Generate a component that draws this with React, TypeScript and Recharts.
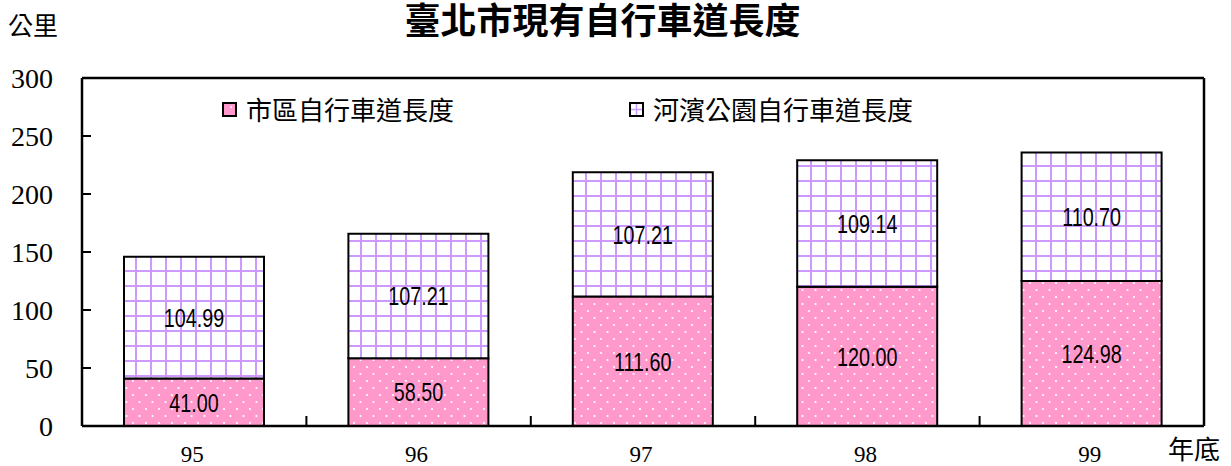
import { Bar, BarChart, CartesianGrid, LabelList, XAxis, YAxis } from "recharts";

const YEARS = ["95", "96", "97", "98", "99"];
const CITY = [41.0, 58.5, 111.6, 120.0, 124.98];
const RIVERSIDE = [104.99, 107.21, 107.21, 109.14, 110.7];
const Y_TICKS = [0, 50, 100, 150, 200, 250, 300];

const SERIES = [
  { key: "city", name: "市區自行車道長度", fill: "url(#dots)" },
  { key: "river", name: "河濱公園自行車道長度", fill: "url(#grid)" },
];

const data = YEARS.map((year, i) => ({
  year,
  city: CITY[i],
  river: RIVERSIDE[i],
}));

const W = 1231;
const H = 466;
const MARGIN = { top: 78, right: 27, left: 0, bottom: 0 };
const Y_AXIS_W = 82;
const HALF_BAND = (W - MARGIN.right - Y_AXIS_W) / YEARS.length / 2;

const CJK = "'Noto Sans CJK TC', 'Noto Sans CJK SC', sans-serif";
const SERIF = "'Liberation Serif', 'DejaVu Serif', serif";
const SANS = "'Liberation Sans', Arial, sans-serif";

function YTick({ x, y, payload }: any) {
  return (
    <g>
      <line x1={x} x2={x + 9} y1={y} y2={y} stroke="#000" strokeWidth={2} />
      <text
        x={x - 29}
        y={y}
        dy="0.35em"
        textAnchor="end"
        style={{ fontFamily: SERIF, fontSize: 28 }}
        fill="#000"
      >
        {payload.value}
      </text>
    </g>
  );
}

function XTick({ x, y, payload, index }: any) {
  const bx = x + HALF_BAND;
  return (
    <g>
      {index < YEARS.length - 1 ? (
        <line x1={bx} x2={bx} y1={y} y2={y - 10} stroke="#000" strokeWidth={2} />
      ) : null}
      <text x={x - 2} y={y + 36} textAnchor="middle" style={{ fontFamily: SERIF, fontSize: 23 }} fill="#000">
        {payload.value}
      </text>
    </g>
  );
}

// condensed value label in the middle of each segment
function ValueLabel({ x, y, width, height, value }: any) {
  const cx = x + width / 2;
  const cy = y + height / 2;
  return (
    <text
      x={0}
      y={0}
      dy="0.36em"
      textAnchor="middle"
      transform={`translate(${cx},${cy}) scale(0.76,1)`}
      style={{ fontFamily: SANS, fontSize: 26 }}
      fill="#000"
    >
      {Number(value).toFixed(2)}
    </text>
  );
}

function LegendSwatch({ index }: { index: number }) {
  return (
    <svg width={15} height={15} style={{ marginRight: 9 }}>
      <rect x={1} y={1} width={13} height={13} fill={index === 0 ? "#FF99CC" : "#fff"} />
      {index === 0 ? (
        <circle cx={9} cy={5} r={1} fill="#fff" />
      ) : (
        <g stroke="#CC99FF" strokeWidth={1.5}>
          <line x1={7.5} x2={7.5} y1={1} y2={14} />
          <line x1={1} x2={14} y1={7.5} y2={7.5} />
        </g>
      )}
      <rect x={1} y={1} width={13} height={13} fill="none" stroke="#000" strokeWidth={2} />
    </svg>
  );
}

function LegendBox() {
  return (
    <div style={{ display: "flex", alignItems: "center", fontFamily: CJK, fontSize: 26, color: "#000" }}>
      {SERIES.map((s, i) => (
        <div
          key={s.key}
          style={{ display: "flex", alignItems: "center", marginRight: i === 0 ? 175 : 0 }}
        >
          <LegendSwatch index={i} />
          <span style={{ lineHeight: "30px" }}>{s.name}</span>
        </div>
      ))}
    </div>
  );
}

export default function App() {
  return (
    <div style={{ position: "relative", width: W, height: H, background: "#fff", overflow: "hidden" }}>
      <style>{"body{margin:0;}"}</style>
      <BarChart width={W} height={H} data={data} margin={MARGIN} barSize={140}>
        <defs>
          <pattern id="dots" width={13} height={14} patternUnits="userSpaceOnUse">
            <rect width={13} height={14} fill="#FF99CC" />
            <circle cx={3} cy={3} r={1.1} fill="#fff" />
            <circle cx={9.5} cy={10} r={1.1} fill="#fff" />
          </pattern>
          <pattern id="grid" width={15} height={15} patternUnits="userSpaceOnUse">
            <rect width={15} height={15} fill="#fff" />
            <line x1={1} x2={1} y1={0} y2={15} stroke="#CC99FF" strokeWidth={2} />
            <line x1={0} x2={15} y1={1} y2={1} stroke="#CC99FF" strokeWidth={2} />
          </pattern>
        </defs>
        {/* top and right edges of the plot frame */}
        <CartesianGrid
          stroke="#000"
          strokeWidth={2.5}
          strokeDasharray="0"
          horizontalCoordinatesGenerator={({ offset }: any) => [offset.top]}
          verticalCoordinatesGenerator={({ offset }: any) => [offset.left + offset.width]}
        />
        <XAxis
          dataKey="year"
          height={40}
          tickSize={0}
          tickMargin={0}
          tickLine={false}
          axisLine={{ stroke: "#000", strokeWidth: 2.5 }}
          tick={<XTick />}
          interval={0}
        />
        <YAxis
          width={Y_AXIS_W}
          domain={[0, 300]}
          ticks={Y_TICKS}
          tickSize={0}
          tickMargin={0}
          tickLine={false}
          axisLine={{ stroke: "#000", strokeWidth: 2.5 }}
          tick={<YTick />}
          interval={0}
        />
        <Bar
          dataKey="city"
          name={SERIES[0].name}
          stackId="a"
          fill={SERIES[0].fill}
          stroke="#000"
          strokeWidth={2}
          isAnimationActive={false}
        >
          <LabelList dataKey="city" content={<ValueLabel />} />
        </Bar>
        <Bar
          dataKey="river"
          name={SERIES[1].name}
          stackId="a"
          fill={SERIES[1].fill}
          stroke="#000"
          strokeWidth={2}
          isAnimationActive={false}
        >
          <LabelList dataKey="river" content={<ValueLabel />} />
        </Bar>
      </BarChart>
      <div style={{ position: "absolute", top: 94, left: 222 }}>
        <LegendBox />
      </div>
      <div
        style={{
          position: "absolute",
          left: 0,
          right: 0,
          top: 0,
          textAlign: "center",
          fontFamily: CJK,
          fontSize: 36,
          fontWeight: 700,
          lineHeight: "36px",
          paddingRight: 26,
        }}
      >
        臺北市現有自行車道長度
      </div>
      <div style={{ position: "absolute", left: 8, top: 8, fontFamily: CJK, fontSize: 25, lineHeight: "32px" }}>
        公里
      </div>
      <div style={{ position: "absolute", left: 1168, top: 432, fontFamily: CJK, fontSize: 26, lineHeight: "32px" }}>
        年底
      </div>
    </div>
  );
}
